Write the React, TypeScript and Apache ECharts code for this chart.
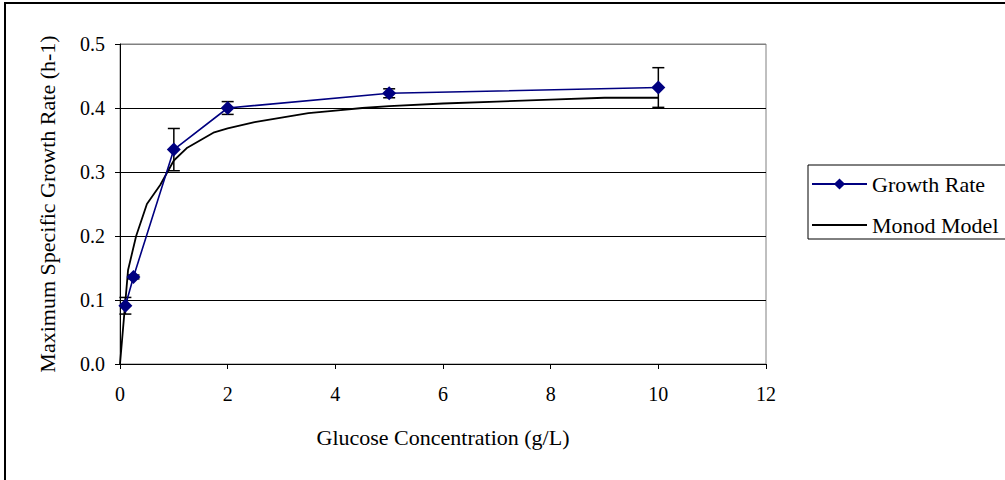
import React, { useEffect, useRef } from "react";
import * as echarts from "echarts";

// Measured growth rates with their error bars
const glucose = [0.1, 0.25, 1, 2, 5, 10];
const growthRate = [0.091, 0.136, 0.335, 0.4, 0.423, 0.432];
const growthError = [0.013, 0.003, 0.033, 0.01, 0.007, 0.031];

// Monod model curve
const monodS = [0, 0.15, 0.3, 0.5, 0.75, 1, 1.25, 1.5, 1.75, 2, 2.5, 3, 3.5, 4, 4.5, 5, 6, 7, 8, 9, 10];
const monodMu = [0, 0.147, 0.2, 0.25, 0.28, 0.318, 0.338, 0.35, 0.362, 0.368, 0.378, 0.385, 0.392, 0.396, 0.4, 0.403, 0.407, 0.41, 0.413, 0.416, 0.416];

const yTicks = ["0.0", "0.1", "0.2", "0.3", "0.4", "0.5"];

const FONT = "'Liberation Serif', 'Times New Roman', serif";

export default function App() {
  const ref = useRef<HTMLDivElement>(null);

  useEffect(() => {
    if (!ref.current) return;
    const chart = echarts.init(ref.current, undefined, { renderer: "svg" });

    const errorData = glucose.map((x, i) => [x, growthRate[i] - growthError[i], growthRate[i] + growthError[i]]);

    chart.setOption({
      animation: false,
      backgroundColor: "#ffffff",
      textStyle: { fontFamily: FONT, color: "#000" },
      grid: {
        left: 120,
        top: 44,
        right: 239,
        bottom: 116,
        show: true,
        borderColor: "#808080",
        borderWidth: 1,
        backgroundColor: "transparent",
      },
      legend: {
        data: [
          { name: "Growth Rate" },
          { name: "Monod Model", itemStyle: { opacity: 0 } },
        ],
        orient: "vertical",
        left: 808,
        top: 165,
        itemWidth: 55,
        itemHeight: 14,
        itemGap: 19,
        padding: [8, 10, 3, 3],
        borderColor: "#000",
        borderWidth: 1,
        textStyle: { fontFamily: FONT, fontSize: 22, color: "#000", padding: [0, 0, 0, 0] },
      },
      xAxis: {
        type: "value",
        min: 0,
        max: 12,
        interval: 2,
        name: "Glucose Concentration (g/L)",
        nameLocation: "middle",
        nameGap: 62,
        nameTextStyle: { fontFamily: FONT, fontSize: 22, color: "#000" },
        axisLine: { show: true, onZero: false, lineStyle: { color: "#000", width: 1 } },
        axisTick: { show: true, length: 5, lineStyle: { color: "#000" } },
        axisLabel: { fontFamily: FONT, fontSize: 20, color: "#000", margin: 20 },
        splitLine: { show: false },
      },
      yAxis: {
        type: "value",
        min: 0,
        max: 0.5,
        interval: 0.1,
        name: "Maximum Specific Growth Rate (h-1)",
        nameLocation: "middle",
        nameGap: 62,
        nameTextStyle: { fontFamily: FONT, fontSize: 22, color: "#000" },
        axisLine: { show: true, onZero: false, lineStyle: { color: "#000", width: 1 } },
        axisTick: { show: true, length: 5, lineStyle: { color: "#000" } },
        axisLabel: {
          fontFamily: FONT,
          fontSize: 20,
          color: "#000",
          margin: 15,
          formatter: (v: number) => yTicks[Math.round(v * 10)] ?? v.toFixed(1),
        },
        splitLine: {
          show: true,
          lineStyle: { color: ["#000", "#000", "#000", "#000", "#000", "#808080"], width: 1 },
        },
      },
      series: [
        {
          name: "Monod Model",
          type: "line",
          data: monodS.map((s, i) => [s, monodMu[i]]),
          symbol: "none",
          smooth: false,
          lineStyle: { color: "#000", width: 1.8 },
          itemStyle: { color: "#000" },
          z: 2,
        },
        {
          name: "Error",
          type: "custom",
          data: errorData,
          z: 3,
          renderItem: (params: any, api: any) => {
            const x = api.value(0);
            const lo = api.coord([x, api.value(1)]);
            const hi = api.coord([x, api.value(2)]);
            const half = 6;
            const style = { stroke: "#000", lineWidth: 1.5 };
            return {
              type: "group",
              children: [
                { type: "line", shape: { x1: lo[0], y1: lo[1], x2: hi[0], y2: hi[1] }, style },
                { type: "line", shape: { x1: lo[0] - half, y1: lo[1], x2: lo[0] + half, y2: lo[1] }, style },
                { type: "line", shape: { x1: hi[0] - half, y1: hi[1], x2: hi[0] + half, y2: hi[1] }, style },
              ],
            };
          },
        },
        {
          name: "Growth Rate",
          type: "line",
          data: glucose.map((x, i) => [x, growthRate[i]]),
          symbol: "diamond",
          symbolSize: 14,
          lineStyle: { color: "#000080", width: 1.6 },
          itemStyle: { color: "#000080" },
          z: 4,
        },
      ],
      graphic: [
        {
          type: "rect",
          shape: { x: 5, y: 3, width: 1010, height: 490 },
          style: { fill: "none", stroke: "#000", lineWidth: 2 },
          silent: true,
        },
      ],
    });

    return () => chart.dispose();
  }, []);

  return (
    <div
      ref={ref}
      style={{ position: "fixed", left: 0, top: 0, width: 1005, height: 480, background: "#fff" }}
    />
  );
}
